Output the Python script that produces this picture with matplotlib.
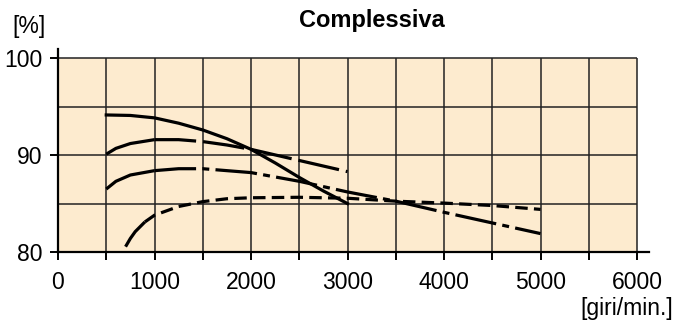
import matplotlib.pyplot as plt
import numpy as np

plt.rcParams["font.family"] = ["Liberation Sans", "DejaVu Sans"]
plt.rcParams["lines.scale_dashes"] = False

# curve data: speed [giri/min.] vs efficiency [%]
rpm_a = [500, 750, 1000, 1250, 1500, 1750, 2000, 2250, 2500, 2750, 3000]
eff_a = [94.15, 94.1, 93.85, 93.3, 92.6, 91.7, 90.6, 89.2, 87.7, 86.3, 85.0]

rpm_b = [500, 600, 750, 1000, 1250, 1500, 1750, 2000, 2500, 3000]
eff_b = [90.1, 90.7, 91.2, 91.6, 91.6, 91.4, 91.05, 90.6, 89.45, 88.3]

rpm_c = [500, 600, 750, 1000, 1250, 1500, 2000, 2500, 3000, 3500, 4000, 4500, 5000]
eff_c = [86.5, 87.3, 87.95, 88.4, 88.6, 88.6, 88.2, 87.3, 86.2, 85.25, 84.1, 83.0, 81.9]

rpm_d = [700, 750, 800, 900, 1000, 1250, 1500, 1750, 2000, 2500, 3000, 3500, 4000, 4500, 5000]
eff_d = [80.55, 81.4, 82.1, 83.1, 83.8, 84.7, 85.2, 85.5, 85.6, 85.65, 85.55, 85.25, 85.05, 84.8, 84.4]

x_ticks = [0, 1000, 2000, 3000, 4000, 5000, 6000]
y_ticks = [80, 90, 100]

fig = plt.figure(figsize=(6.74, 3.2), dpi=100)
ax = fig.add_axes([58 / 674, 68 / 320, 590.6 / 674, 202.7 / 320])
ax.set_xlim(0, 6120)
ax.set_ylim(80, 100.93)
ax.set_facecolor("none")

ax.add_patch(plt.Rectangle((0, 80), 6000, 20, facecolor="#fdebcf", edgecolor="none", zorder=0))
ax.vlines(np.arange(500, 6001, 500), 80, 100, color="#222222", lw=1.1, zorder=1)
ax.hlines([85, 90, 95, 100], 0, 6000, color="#222222", lw=1.1, zorder=1)

lw = 2.3
def draw(x, y, split, dashes):
    x = np.asarray(x); y = np.asarray(y)
    m1 = x <= split
    m2 = x >= split
    ax.plot(x[m1], y[m1], color="black", lw=lw, solid_capstyle="butt", zorder=3)
    ax.plot(x[m2], y[m2], color="black", lw=lw, dashes=dashes, dash_capstyle="butt", zorder=3)

ax.plot(rpm_a, eff_a, color="black", lw=lw, zorder=3)
draw(rpm_b, eff_b, 1000, (30, 5))
draw(rpm_c, eff_c, 1000, (30, 4.5, 5, 4.5))
draw(rpm_d, eff_d, 900, (9, 4.5))

for s in ["top", "right"]:
    ax.spines[s].set_visible(False)
for s in ["left", "bottom"]:
    ax.spines[s].set_linewidth(1.6)

ax.set_xticks(x_ticks)
ax.set_xticks(np.arange(500, 6001, 1000), minor=True)
ax.set_yticks(y_ticks)
ax.tick_params(axis="x", which="both", direction="out", length=6, width=1.4, pad=8, labelsize=16.5)
ax.tick_params(axis="y", direction="out", length=6, width=1.4, pad=5, labelsize=16.5)

fig.text(372 / 674, 1 - 21 / 320, "Complessiva", ha="center", va="center", fontsize=17, fontweight="bold")
fig.text(12 / 674, 1 - 26 / 320, "[%]", ha="left", va="center", fontsize=16.5)
fig.text(673 / 674, 1 - 315 / 320, "[giri/min.]", ha="right", va="baseline", fontsize=16.5)

fig.savefig("out.png", dpi=100)
